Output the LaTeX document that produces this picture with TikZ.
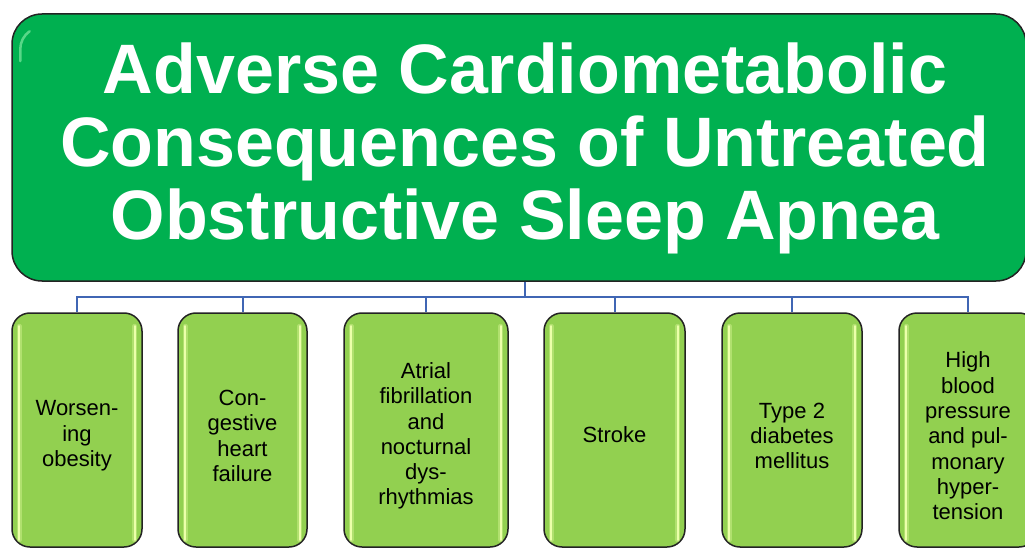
\documentclass[tikz,border=0pt]{standalone}
\usepackage{fontspec}
\setmainfont{Liberation Sans}
\definecolor{topgreen}{RGB}{0,176,80}
\definecolor{childgreen}{RGB}{146,208,80}
\definecolor{linkblue}{RGB}{64,102,180}
\definecolor{shinecol}{RGB}{236,255,170}
\definecolor{topshine}{RGB}{110,225,150}
\definecolor{edgecol}{RGB}{35,35,35}
\begin{document}
\begin{tikzpicture}[x=1pt,y=-1pt,
  topbox/.style={draw=edgecol, line width=1.5pt, fill=topgreen, rounded corners=30pt, minimum width=1014pt, minimum height=267pt, inner sep=0pt},
  childbox/.style={draw=edgecol, line width=1.5pt, fill=childgreen, rounded corners=18pt, minimum height=234pt, inner sep=0pt},
  titletext/.style={text=white, font=\bfseries\fontsize{70}{73}\selectfont, align=center, inner sep=0pt},
  childtext/.style={text=black, font=\fontsize{22}{25.3}\selectfont, align=center, inner sep=0pt},
  link/.style={draw=linkblue, line width=2pt},
  shine/.style={draw=shinecol, line width=2.2pt, line cap=round},
  shineglow/.style={draw=shinecol, line width=5pt, line cap=round, opacity=0.35},
  topshinestyle/.style={draw=topshine, line width=2.5pt, line cap=round, opacity=0.8}
]
\useasboundingbox (0,0) rectangle (1025,548);
\clip (0,0) rectangle (1025,548);

% top box
\node[topbox] (top) at (519,147.5) {};
\draw[topshinestyle] ([xshift=9pt,yshift=-48pt]top.north west) -- ([xshift=9pt,yshift=-36pt]top.north west) arc[start angle=180, end angle=125, radius=22pt];
\node[titletext] (title) at (525,148) {Adverse Cardiometabolic\\Consequences of Untreated\\Obstructive Sleep Apnea};

% child boxes
\node[childbox, minimum width=130pt] (c1) at (77,430) {};
\node[childbox, minimum width=129pt] (c2) at (242.5,430) {};
\node[childbox, minimum width=164pt] (c3) at (426,430) {};
\node[childbox, minimum width=141pt] (c4) at (614.5,430) {};
\node[childbox, minimum width=140pt] (c5) at (792,430) {};
\node[childbox, minimum width=138pt] (c6) at (968,430) {};

\foreach \c in {c1,c2,c3,c4,c5,c6}{
  \draw[shineglow] ([xshift=8pt,yshift=-14pt]\c.north west) -- ([xshift=8pt,yshift=8pt]\c.south west);
  \draw[shineglow] ([xshift=-8pt,yshift=-14pt]\c.north east) -- ([xshift=-8pt,yshift=8pt]\c.south east);
  \draw[shine] ([xshift=8pt,yshift=-14pt]\c.north west) -- ([xshift=8pt,yshift=8pt]\c.south west);
  \draw[shine] ([xshift=-8pt,yshift=-14pt]\c.north east) -- ([xshift=-8pt,yshift=8pt]\c.south east);
}

\node[childtext] (t1) at (77,436) {Worsen-\\ing\\obesity};
\node[childtext] (t2) at (242.5,436) {Con-\\gestive\\heart\\failure};
\node[childtext] (t3) at (426,436) {Atrial\\fibrillation\\and\\nocturnal\\dys-\\rhythmias};
\node[childtext] (t4) at (614.5,435) {Stroke};
\node[childtext] (t5) at (792,436) {Type 2\\diabetes\\mellitus};
\node[childtext] (t6) at (968,436) {High\\blood\\pressure\\and pul-\\monary\\hyper-\\tension};

% connectors
\coordinate (hub) at (525,297);
\foreach \c in {c1,c2,c3,c4,c5,c6}{
  \draw[link] (top.south -| hub) -- (hub) -| (\c.north);
}
\end{tikzpicture}
\end{document}
